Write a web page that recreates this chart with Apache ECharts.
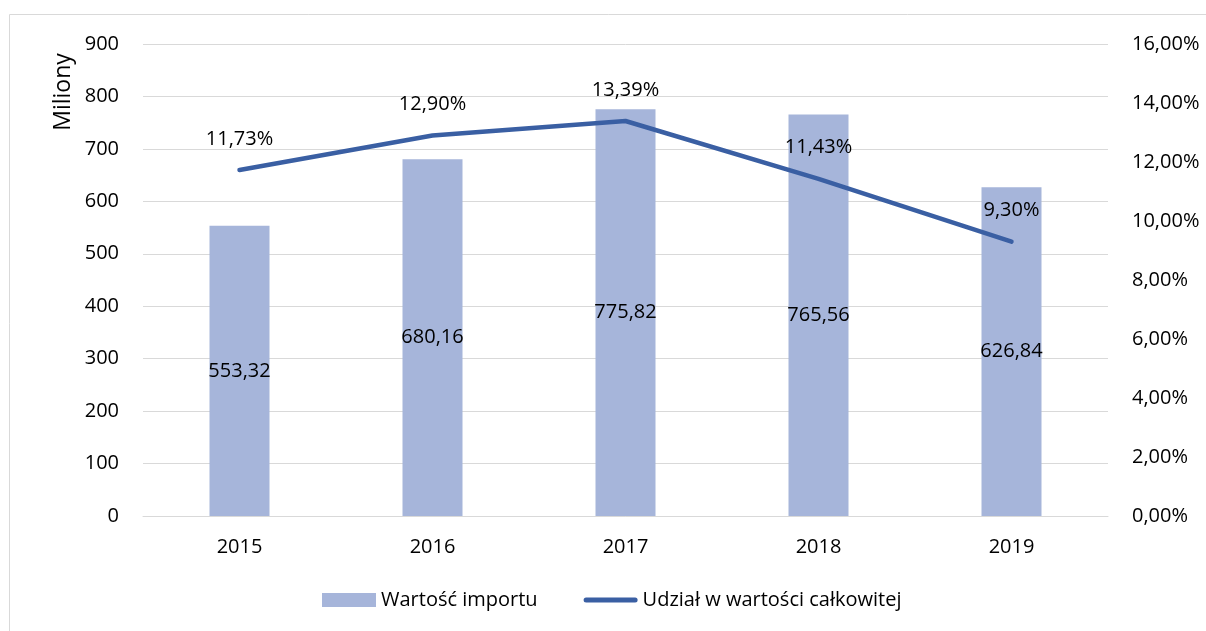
<!DOCTYPE html>
<html><head><meta charset="utf-8">
<script src="https://cdn.jsdelivr.net/npm/echarts@6/dist/echarts.min.js"></script>
<style>html,body{margin:0;padding:0;background:#fff}#c{width:1206px;height:631px}</style>
</head><body><div id="c"></div>
<script>
var categories = ['2015','2016','2017','2018','2019'];
var importValues = [553.32, 680.16, 775.82, 765.56, 626.84];
var shareValues = [11.73, 12.90, 13.39, 11.43, 9.30];
var leftTicks = {min:0, max:900, interval:100};
var rightTicks = {min:0, max:16, interval:2};
var FONT = '"Open Sans", "Noto Sans", sans-serif';
var FS = 20;
function pl(v, d){ return v.toFixed(d).replace('.', ','); }
var chart = echarts.init(document.getElementById('c'));
chart.setOption({
  animation:false,
  textStyle:{fontFamily:FONT},
  grid:{left:143, right:98, top:44, bottom:115},
  graphic:[
    {type:'rect', shape:{x:9.5,y:14.5,width:1220,height:640}, style:{fill:'none', stroke:'#d9d9d9', lineWidth:1}, silent:true},
    {type:'text', x:63, y:92, rotation:Math.PI/2, style:{text:'Miliony', font:'23px ' + FONT, fill:'#000', align:'center', verticalAlign:'middle'}}
  ],
  legend:{
    bottom:16, left:317, itemGap:46, itemWidth:54, itemHeight:14,
    textStyle:{fontSize:FS, color:'#000', fontFamily:FONT},
    data:[{name:'Wartość importu', icon:'rect'},
          {name:'Udział w wartości całkowitej', icon:'path://M2.5,0 L51.5,0 A2.5,2.5 0 0 1 51.5,5 L2.5,5 A2.5,2.5 0 0 1 2.5,0 Z'}]
  },
  xAxis:{type:'category', data:categories,
    axisLine:{lineStyle:{color:'#d9d9d9'}}, axisTick:{show:false},
    axisLabel:{fontSize:FS, color:'#000', margin:21}},
  yAxis:[
    {type:'value', min:leftTicks.min, max:leftTicks.max, interval:leftTicks.interval,
     axisLabel:{fontSize:FS, color:'#000', margin:24},
     splitLine:{lineStyle:{color:'#d9d9d9', width:1}}, axisLine:{show:false}, axisTick:{show:false}},
    {type:'value', min:rightTicks.min, max:rightTicks.max, interval:rightTicks.interval,
     axisLabel:{fontSize:FS, color:'#000', margin:24, formatter:function(v){return pl(v,2)+'%';}},
     splitLine:{show:false}, axisLine:{show:false}, axisTick:{show:false}}
  ],
  series:[
    {name:'Wartość importu', type:'bar', data:importValues, barWidth:60, yAxisIndex:0,
     itemStyle:{color:'#a6b5da'},
     label:{show:true, position:'inside', fontSize:FS, color:'#000', fontFamily:FONT, formatter:function(p){return pl(p.value,2);}}},
    {name:'Udział w wartości całkowitej', type:'line', data:shareValues, yAxisIndex:1,
     symbol:'circle', symbolSize:0.1, showSymbol:true,
     lineStyle:{color:'#3a5fa3', width:4.5, cap:'round', join:'round'}, itemStyle:{color:'#3a5fa3'},
     label:{show:true, position:'top', distance:21, fontSize:FS, color:'#000', fontFamily:FONT, formatter:function(p){return pl(p.value,2)+'%';}}}
  ]
});
</script></body></html>
